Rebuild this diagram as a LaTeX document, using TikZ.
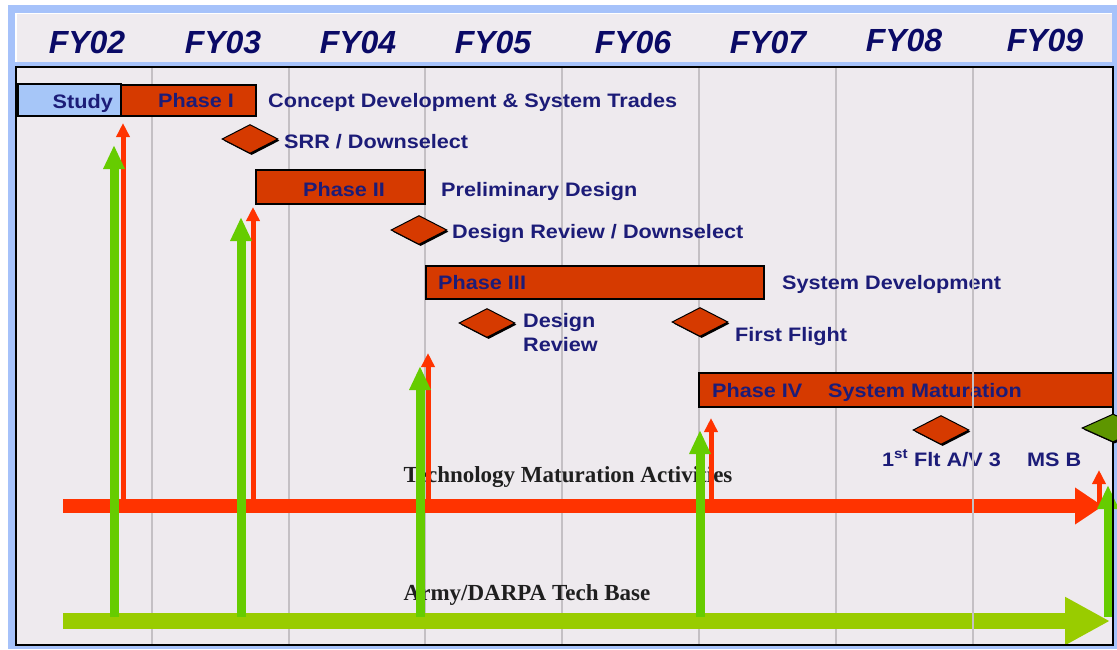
\documentclass[tikz,border=0pt]{standalone}
\usepackage{fontspec}
\setmainfont{Liberation Sans}
\newfontfamily\lblfont[FakeStretch=1.11]{Liberation Sans}
\newfontfamily\timesfont{Liberation Serif}
\usetikzlibrary{arrows.meta,shapes.geometric,shadows}

\definecolor{frameblue}{HTML}{A6C2FA}
\definecolor{headgray}{HTML}{EFEBEF}
\definecolor{chartbg}{HTML}{EEEAEE}
\definecolor{gridgray}{HTML}{C4C0C4}
\definecolor{navy}{HTML}{1C1C78}
\definecolor{fynavy}{HTML}{0A0A66}
\definecolor{phasered}{HTML}{D63A00}
\definecolor{studyblue}{HTML}{A6C6F8}
\definecolor{techred}{HTML}{FF3300}
\definecolor{upgreen}{HTML}{66CC00}
\definecolor{basegreen}{HTML}{99CC00}
\definecolor{msgreen}{HTML}{5E9600}

\tikzset{
  fy/.style={font=\fontsize{32}{36}\selectfont\bfseries\itshape, text=fynavy, anchor=base, inner sep=0},
  lbl/.style={font=\lblfont\fontsize{19.5}{24}\selectfont\bfseries, text=navy, inner sep=0, anchor=base west},
  tech/.style={font=\timesfont\fontsize{23}{26}\selectfont\bfseries, text=black!88, inner sep=0, anchor=base},
  bar/.style={draw=black, line width=1.5pt, inner sep=0, anchor=north west},
  phasebar/.style={bar, fill=phasered},
  studybar/.style={bar, fill=studyblue},
  milestone/.style={diamond, draw=black, line width=1pt, fill=phasered,
    minimum width=56pt, minimum height=29pt, inner sep=0,
    drop shadow={shadow xshift=1.6pt, shadow yshift=-1.6pt, fill=black, opacity=1}},
  gridline/.style={draw=gridgray, line width=1.4pt},
  redup/.style={draw=techred, line width=5pt, -{Triangle[length=14pt,width=13pt]}},
  greenup/.style={draw=upgreen, line width=9pt, -{Triangle[length=24pt,width=20pt]}},
  techline/.style={draw=techred, line width=14pt, -{Triangle[length=28pt,width=35pt]}},
  baseline/.style={draw=basegreen, line width=16pt, -{Triangle[length=45pt,width=45pt]}},
}

\begin{document}
\begin{tikzpicture}[x=1pt,y=-1pt]
  \useasboundingbox (0,0) rectangle (1117,649);
  \fill[white] (0,0) rectangle (1117,649);
  % outer frame, header strip and chart area
  \fill[frameblue] (8,5) rectangle (1117,649);
  \fill[headgray] (16,13) rectangle (1112,62);
  \draw[white, line width=1.2pt] (16,62) -- (16,13.5) -- (1112,13.5);
  \fill[chartbg] (16,67) rectangle (1113,645);

  % fiscal years
  \foreach \x/\t/\yy in {87/FY02/53, 223/FY03/53, 358/FY04/53, 493/FY05/53,
                         633/FY06/53, 768/FY07/53, 904/FY08/51, 1045/FY09/51}
    \node[fy] (\t) at (\x,\yy) {\t};

  % year dividers
  \foreach \x in {152,289,425,562,699,836}
    \draw[gridline] (\x,68) -- (\x,645);

  % schedule bars
  \node[studybar, minimum width=103pt, minimum height=32pt] (study) at (17,83) {};
  \node[phasebar, minimum width=135pt, minimum height=31pt] (p1) at (120,84) {};
  \node[phasebar, minimum width=169pt, minimum height=34pt] (p2) at (255,169) {};
  \node[phasebar, minimum width=338pt, minimum height=33pt] (p3) at (425,265) {};
  \node[phasebar, minimum width=414pt, minimum height=34pt] (p4) at (698,372) {};

  % milestones
  \node[milestone] (srr) at (250,139) {};
  \node[milestone] (dr1) at (419,230) {};
  \node[milestone] (dr2) at (487,323) {};
  \node[milestone] (ff)  at (700,322) {};
  \node[milestone] (flt) at (941,430) {};

  % bar and milestone labels
  \node[lbl, anchor=base east] (tstudy) at (113,108) {Study};
  \node[lbl] (tp1) at (158,107) {Phase I};
  \node[lbl] (tcd) at (268,107) {Concept Development \& System Trades};
  \node[lbl] (tsrr) at (284,148) {SRR / Downselect};
  \node[lbl] (tp2) at (303,196) {Phase II};
  \node[lbl] (tpd) at (441,196) {Preliminary Design};
  \node[lbl] (tdr1) at (452,238) {Design Review / Downselect};
  \node[lbl] (tp3) at (438,289) {Phase III};
  \node[lbl] (tsd) at (782,289) {System Development};
  \node[lbl] (tdr2a) at (523,327) {Design};
  \node[lbl] (tdr2b) at (523,351) {Review};
  \node[lbl] (tff) at (735,341) {First Flight};
  \node[lbl] (tp4) at (712,397) {Phase IV};
  \node[lbl] (tsm) at (828,397) {System Maturation};
  \node[lbl] (tflt) at (882,466) {1\textsuperscript{st} Flt A/V 3};
  \node[lbl] (tmsb) at (1027,466) {MS B};

  % technology streams
  \node[tech] (tma) at (568,482) {Technology Maturation Activities};
  \node[tech] (tdb) at (527,600) {Army/DARPA Tech Base};

  \coordinate (tmA) at (63,506);
  \coordinate (tmB) at (1103,506);
  \draw[techline] (tmA) -- (tmB);

  % technology insertions into each phase
  \foreach \n/\x/\yy in {1/123/123, 2/253/207, 3/428/353, 4/711/418, 5/1099/470} {
    \coordinate (rs\n) at (\x,506);
    \coordinate (re\n) at (\x,\yy);
    \draw[redup] (rs\n) -- (re\n);
  }

  \coordinate (dbA) at (63,621);
  \coordinate (dbB) at (1110,621);
  \draw[baseline] (dbA) -- (dbB);

  \foreach \n/\x/\yy in {1/114/145, 2/241/217, 3/420/366, 4/700/430, 5/1108/485} {
    \coordinate (gs\n) at (\x,617);
    \coordinate (ge\n) at (\x,\yy);
    \draw[greenup] (gs\n) -- (ge\n);
  }

  \draw[gridline] (973,68) -- (973,645);

  % chart border and Milestone B
  \draw[black, line width=2pt] (16,67) rectangle (1113,645);
  \node[milestone, fill=msgreen, minimum width=62pt, minimum height=28pt] (msb) at (1113,428) {};
\end{tikzpicture}
\end{document}
